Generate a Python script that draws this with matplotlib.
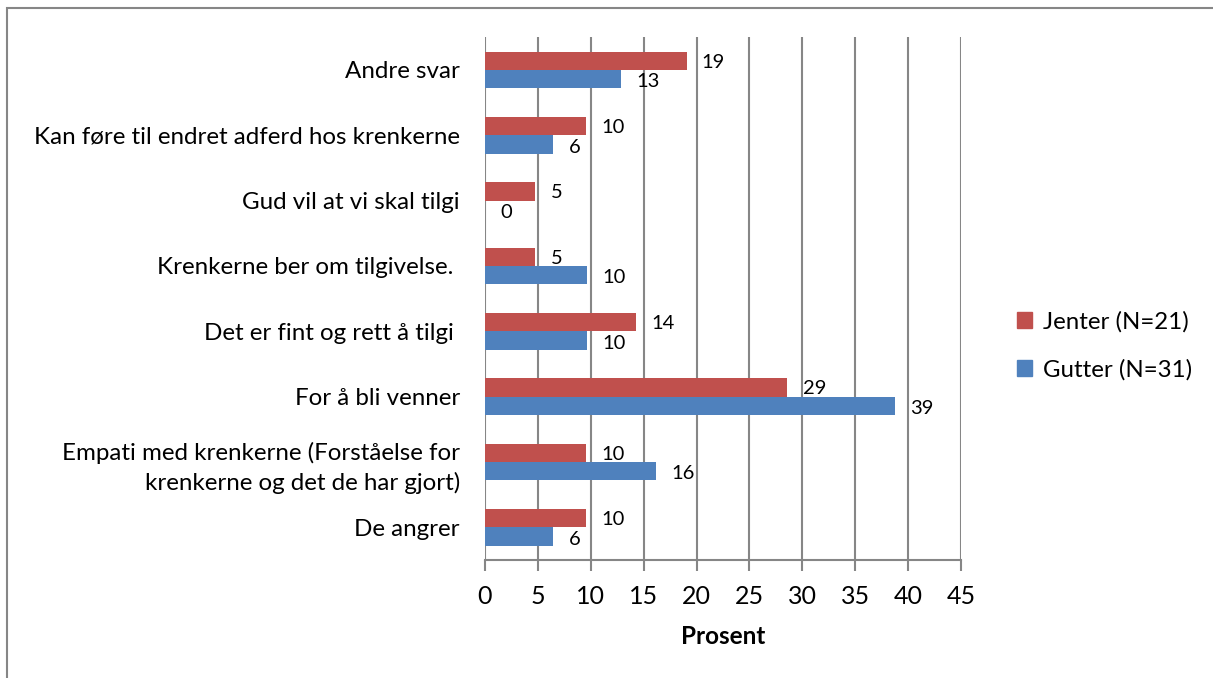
import matplotlib.pyplot as plt
import matplotlib.patches as mpatches
import numpy as np

plt.rcParams['font.family'] = ['Lato', 'DejaVu Sans']

categories = ["Andre svar",
              "Kan føre til endret adferd hos krenkerne",
              "Gud vil at vi skal tilgi",
              "Krenkerne ber om tilgivelse. ",
              "Det er fint og rett å tilgi ",
              "For å bli venner",
              "Empati med krenkerne (Forståelse for\nkrenkerne og det de har gjort)",
              "De angrer"]
jenter = [19.05, 9.52, 4.76, 4.76, 14.29, 28.57, 9.52, 9.52]
gutter = [12.90, 6.45, 0.0, 9.68, 9.68, 38.71, 16.13, 6.45]
jenter_labels = ["19", "10", "5", "5", "14", "29", "10", "10"]
gutter_labels = ["13", "6", "0", "10", "10", "39", "16", "6"]
xticks = [0, 5, 10, 15, 20, 25, 30, 35, 40, 45]

red = '#c0504d'
blue = '#4f81bd'
grid_c = '#868686'

fig = plt.figure(figsize=(12.13, 6.78), dpi=100)
ax = fig.add_axes([0.3998, 0.174, 0.3925, 0.771])

y = np.arange(len(categories))
h = 0.28
ax.barh(y - h / 2, jenter, height=h, color=red, zorder=3)
ax.barh(y + h / 2, gutter, height=h, color=blue, zorder=3)

for i in range(len(categories)):
    ax.text(jenter[i] + 1.45, y[i] - h / 2 + 0.02, jenter_labels[i],
            va='center', ha='left', fontsize=14.5)
    ax.text(gutter[i] + 1.45, y[i] + h / 2 + 0.04, gutter_labels[i],
            va='center', ha='left', fontsize=14.5)

ax.set_ylim(len(categories) - 0.5, -0.5)
ax.set_xlim(0, 45)
ax.set_xticks(xticks)
ax.set_xticklabels([str(t) for t in xticks], fontsize=18)
ax.set_yticks(y)
ax.set_yticklabels(categories, fontsize=17.4, linespacing=1.45)
ax.tick_params(axis='y', length=0, pad=18)
ax.tick_params(axis='x', length=8, width=1.5, color=grid_c, pad=10, direction='out')
ax.xaxis.grid(True, color=grid_c, linewidth=1.5, zorder=0)
for s in ['top', 'right', 'left']:
    ax.spines[s].set_visible(False)
ax.spines['bottom'].set_color(grid_c)
ax.spines['bottom'].set_linewidth(1.5)
ax.set_xlabel("Prosent", fontsize=17.5, fontweight='bold', labelpad=12)

handles = [mpatches.Patch(color=red, label="Jenter (N=21)"),
           mpatches.Patch(color=blue, label="Gutter (N=31)")]
fig.legend(handles=handles, loc='center left', bbox_to_anchor=(0.821, 0.49),
           frameon=False, fontsize=17.3, handlelength=0.6, handleheight=0.6,
           handletextpad=0.45, labelspacing=1.1)

# outer chart border
fig.add_artist(mpatches.Rectangle((6.5 / 1213, -0.1), 1.2, (678 - 7.5) / 678 + 0.1,
                                  transform=fig.transFigure, fill=False,
                                  edgecolor=grid_c, linewidth=1.5))

fig.savefig("out.png", dpi=100)
